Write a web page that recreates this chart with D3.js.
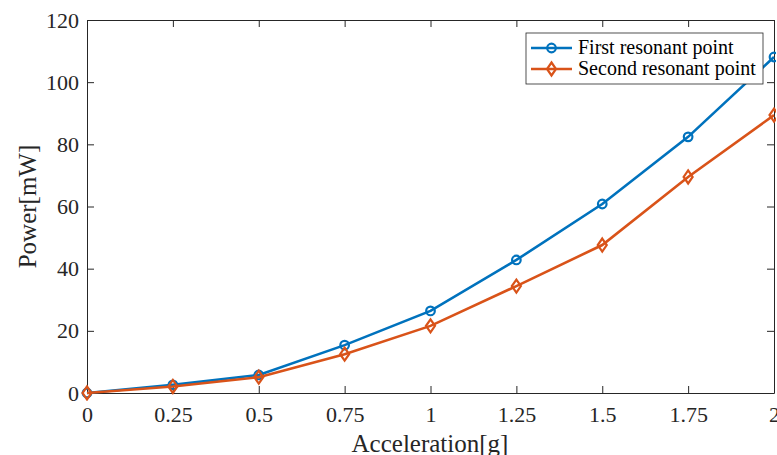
<!DOCTYPE html>
<html><head><meta charset="utf-8">
<script src="https://cdn.jsdelivr.net/npm/d3@7"></script>
<style>body{margin:0;background:#fff}svg{display:block}</style>
</head><body><svg id="c" width="777" height="455"></svg>
<script>
const xVals = [0, 0.25, 0.5, 0.75, 1, 1.25, 1.5, 1.75, 2];
const firstPoint = [0, 2.6, 5.8, 15.4, 26.4, 42.8, 60.8, 82.4, 108.1];
const secondPoint = [0, 2.1, 5.1, 12.5, 21.6, 34.4, 47.6, 69.5, 89.4];
const xTicks = [0, 0.25, 0.5, 0.75, 1, 1.25, 1.5, 1.75, 2];
const yTicks = [0, 20, 40, 60, 80, 100, 120];
const seriesNames = ["First resonant point", "Second resonant point"];

const svg = d3.select("#c");
const L = 87, R = 774, T = 20, B = 393;
const x = d3.scaleLinear().domain([0, 2]).range([L, R]);
const y = d3.scaleLinear().domain([0, 120]).range([B, T]);
const font = "'Liberation Serif','Times New Roman',serif";
const blue = "#0072BD", orange = "#D95319";

// axes
const ax = svg.append("g").attr("transform", `translate(0,${B})`)
  .call(d3.axisBottom(x).tickValues(xTicks).tickFormat(d => String(d)).tickSizeInner(-7).tickSizeOuter(0).tickPadding(13));
const axT = svg.append("g").attr("transform", `translate(0,${T})`)
  .call(d3.axisTop(x).tickValues(xTicks).tickFormat("").tickSizeInner(-7).tickSizeOuter(0));
const ay = svg.append("g").attr("transform", `translate(${L},0)`)
  .call(d3.axisLeft(y).tickValues(yTicks).tickSizeInner(-7).tickSizeOuter(0).tickPadding(8));
const ayR = svg.append("g").attr("transform", `translate(${R},0)`)
  .call(d3.axisRight(y).tickValues(yTicks).tickFormat("").tickSizeInner(-7).tickSizeOuter(0));
[ax, axT, ay, ayR].forEach(g => {
  g.selectAll("path.domain").attr("stroke", "#262626").attr("stroke-width", 1);
  g.selectAll("line").attr("stroke", "#262626").attr("stroke-width", 1);
  g.selectAll("text").attr("font-family", font).attr("font-size", 22).attr("fill", "#262626");
});

// clip
svg.append("clipPath").attr("id", "clip").append("rect").attr("x", L - 8).attr("y", T - 8).attr("width", R - L + 10).attr("height", B - T + 16);

const line = d3.line().x(d => x(d[0])).y(d => y(d[1]));
const g = svg.append("g").attr("clip-path", "url(#clip)");
const d1 = xVals.map((v, i) => [v, firstPoint[i]]);
const d2 = xVals.map((v, i) => [v, secondPoint[i]]);
g.append("path").datum(d1).attr("d", line).attr("fill", "none").attr("stroke", blue).attr("stroke-width", 2.6);
g.selectAll(".m1").data(d1).join("circle").attr("cx", d => x(d[0])).attr("cy", d => y(d[1])).attr("r", 4.3)
  .attr("fill", "none").attr("stroke", blue).attr("stroke-width", 2.2);
g.append("path").datum(d2).attr("d", line).attr("fill", "none").attr("stroke", orange).attr("stroke-width", 2.6);
const dia = "M0,-6.5L4.5,0L0,6.5L-4.5,0Z";
g.selectAll(".m2").data(d2).join("path").attr("d", dia).attr("transform", d => `translate(${x(d[0])},${y(d[1])})`)
  .attr("fill", "none").attr("stroke", orange).attr("stroke-width", 2.2);

// labels
svg.append("text").attr("x", 430).attr("y", 452).attr("text-anchor", "middle")
  .attr("font-family", font).attr("font-size", 25).attr("fill", "#262626").text("Acceleration[g]");
svg.append("text").attr("transform", `translate(36,${(T + B) / 2}) rotate(-90)`).attr("text-anchor", "middle")
  .attr("font-family", font).attr("font-size", 25).attr("fill", "#262626").text("Power[mW]");

// legend
const lg = svg.append("g").attr("transform", "translate(526,33)");
lg.append("rect").attr("width", 237).attr("height", 51).attr("fill", "#fff").attr("stroke", "#262626").attr("stroke-width", 0.8);
[[blue, "c"], [orange, "d"]].forEach((s, i) => {
  const yy = 15 + i * 21;
  lg.append("line").attr("x1", 5).attr("x2", 46).attr("y1", yy).attr("y2", yy).attr("stroke", s[0]).attr("stroke-width", 2.6);
  if (s[1] === "c") lg.append("circle").attr("cx", 25.5).attr("cy", yy).attr("r", 4.3).attr("fill", "none").attr("stroke", s[0]).attr("stroke-width", 2.2);
  else lg.append("path").attr("d", dia).attr("transform", `translate(25.5,${yy})`).attr("fill", "none").attr("stroke", s[0]).attr("stroke-width", 2.2);
  lg.append("text").attr("x", 52).attr("y", yy + 6).attr("font-family", font).attr("font-size", 20).attr("fill", "#000").text(seriesNames[i]);
});
</script></body></html>
